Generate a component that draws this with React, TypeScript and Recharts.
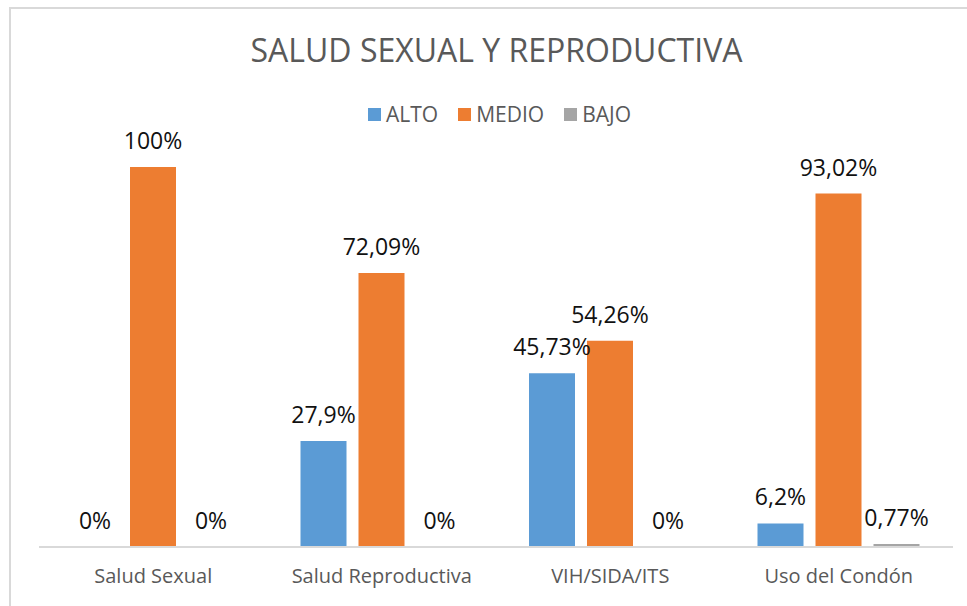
import { BarChart, Bar, XAxis, YAxis, Legend, LabelList } from "recharts";

const categories = ["Salud Sexual", "Salud Reproductiva", "VIH/SIDA/ITS", "Uso del Condón"];
const alto = [0, 27.9, 45.73, 6.2];
const medio = [100, 72.09, 54.26, 93.02];
const bajo = [0, 0, 0, 0.77];

const series = [
  { key: "alto", name: "ALTO", color: "#5B9BD5" },
  { key: "medio", name: "MEDIO", color: "#ED7D31" },
  { key: "bajo", name: "BAJO", color: "#A5A5A5" },
];

const data = categories.map((name, i) => ({
  name,
  alto: alto[i],
  medio: medio[i],
  bajo: bajo[i],
}));

const fmt = (v: any) => `${String(v).replace(".", ",")}%`;

const font = "'Open Sans', sans-serif";

function LegendBox() {
  return (
    <div style={{ display: "flex", justifyContent: "center", gap: 20, fontFamily: font, fontSize: 21, color: "#595959" }}>
      {series.map((s) => (
        <div key={s.key} style={{ display: "flex", alignItems: "center" }}>
          <span style={{ width: 13, height: 13, background: s.color, marginRight: 5, display: "inline-block" }} />
          <span>{s.name}</span>
        </div>
      ))}
    </div>
  );
}

// value label drawn above each bar, also for zero-height bars
function TopLabel(props: any) {
  const { x, y, width, value } = props;
  if (value == null) return null;
  return (
    <text x={Number(x) + Number(width) / 2} y={Number(y) - 18} textAnchor="middle" fill="#111" fontSize={23} fontFamily={font}>
      {fmt(value)}
    </text>
  );
}

export default function App() {
  return (
    <div style={{ position: "absolute", left: 0, top: 0, width: 967, height: 606, overflow: "hidden", background: "#fff" }}>
      {/* chart frame, right/bottom edges fall outside the picture */}
      <div style={{ position: "absolute", left: 9, top: 7, width: 1000, height: 700, borderLeft: "2px solid #d9d9d9", borderTop: "2px solid #d9d9d9" }} />
      <div style={{ position: "absolute", left: 0, top: 28, width: 993, textAlign: "center", fontFamily: font, fontSize: 32, color: "#595959" }}>
        SALUD SEXUAL Y REPRODUCTIVA
      </div>
      <BarChart
        width={967}
        height={606}
        data={data}
        margin={{ top: 63, right: 14, bottom: 19, left: 39 }}
        barGap={12}
        barCategoryGap={33}
        style={{ position: "absolute", left: 0, top: 0 }}
      >
        <XAxis
          dataKey="name"
          height={40}
          tickLine={false}
          tickSize={0}
          tickMargin={22}
          axisLine={{ stroke: "#d9d9d9", strokeWidth: 2 }}
          tick={{ fill: "#595959", fontSize: 20, fontFamily: font }}
        />
        <YAxis hide domain={[0, 120]} />
        <Legend verticalAlign="top" content={<LegendBox />} wrapperStyle={{ top: 100, left: 16, width: 967 }} />
        {series.map((s) => (
          <Bar key={s.key} dataKey={s.key} name={s.name} fill={s.color} barSize={46} minPointSize={0.01} isAnimationActive={false}>
            <LabelList dataKey={s.key} content={<TopLabel />} />
          </Bar>
        ))}
      </BarChart>
    </div>
  );
}
